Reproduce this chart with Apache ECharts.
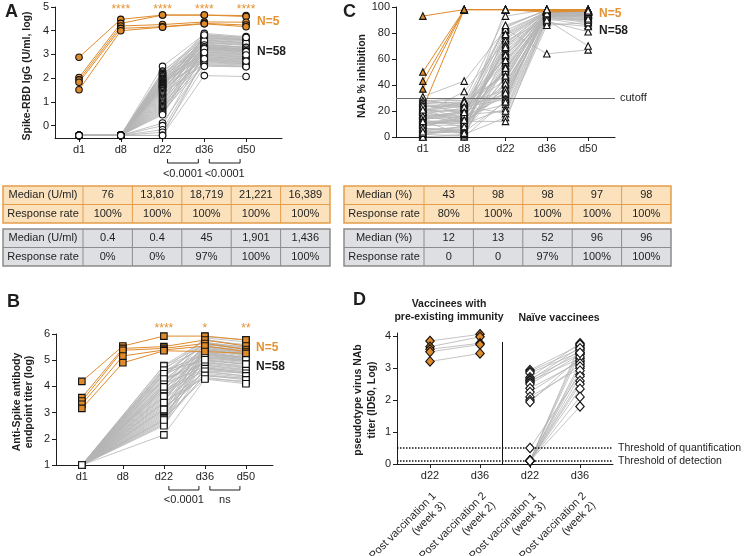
<!DOCTYPE html>
<html><head><meta charset="utf-8">
<script src="https://cdn.jsdelivr.net/npm/echarts@6/dist/echarts.min.js"></script>
<style>html,body{margin:0;padding:0;background:#fff}#c{width:744px;height:556px}</style>
</head><body><div id="c"></div>
<script>
// ---------------- DATA ----------------
const days = ['d1','d8','d22','d36','d50'];
const dDays = ['d22','d36','d22','d36'];
const dSubLabels = ['Post vaccination 1\n(week 3)','Post vaccination 2\n(week 2)','Post vaccination 1\n(week 3)','Post vaccination 2\n(week 2)'];
const groupLabels = ['N=5','N=58'];

// Panel A: Spike-RBD IgG (log10 U/ml)
const aPreD1  = [2.88, 2.03, 1.93, 1.83, 1.51];
const aPreD8  = [4.48, 4.31, 4.20, 4.10, 4.00];
const aPreD22 = [4.66, 4.66, 4.26, 4.17, 4.15];
const aPreD36 = [4.66, 4.66, 4.37, 4.31, 4.29];
const aPreD50 = [4.64, 4.60, 4.36, 4.24, 4.17];
const aNaiveD1 = [-0.41,-0.41,-0.41,-0.41,-0.41,-0.41,-0.41,-0.41,-0.41,-0.41,
 -0.41,-0.41,-0.41,-0.41,-0.41,-0.41,-0.41,-0.41,-0.41,-0.41,
 -0.41,-0.41,-0.41,-0.41,-0.41,-0.41,-0.41,-0.41,-0.41,-0.41,
 -0.41,-0.41,-0.41,-0.41,-0.41,-0.41,-0.41,-0.41,-0.41,-0.41,
 -0.41,-0.41,-0.41,-0.41,-0.41,-0.41,-0.41,-0.41,-0.41,-0.41,
 -0.41,-0.41,-0.41,-0.41,-0.41,-0.41,-0.41,-0.41];
const aNaiveD8 = [-0.41,-0.41,-0.41,-0.41,-0.41,-0.41,-0.41,-0.41,-0.41,-0.41,
 -0.41,-0.41,-0.41,-0.41,-0.41,-0.41,-0.41,-0.41,-0.41,-0.41,
 -0.41,-0.41,-0.41,-0.41,-0.41,-0.41,-0.41,-0.41,-0.41,-0.41,
 -0.41,-0.41,-0.41,-0.41,-0.41,-0.41,-0.41,-0.41,-0.41,-0.41,
 -0.41,-0.41,-0.41,-0.41,-0.41,-0.41,-0.41,-0.41,-0.41,-0.41,
 -0.41,-0.41,-0.41,-0.41,-0.41,-0.41,-0.41,-0.41];
const aNaiveD22 = [2.5,2.3,2.25,2.2,2.18,2.15,2.1,2.08,2.05,2.0,1.98,1.95,1.92,1.9,1.88,1.85,1.82,1.8,1.78,1.75,
 1.72,1.7,1.68,1.66,1.65,1.63,1.6,1.58,1.55,1.5,1.48,1.45,1.4,1.35,1.3,1.25,1.2,1.15,1.1,1.05,
 1.0,0.95,0.9,0.85,0.8,0.75,0.7,0.65,0.6,0.55,0.5,0.46,0.11,0.0,-0.17,-0.28,-0.41,-0.41];
const aNaiveD36 = [3.85,3.6,3.78,3.3,3.5,3.72,3.2,3.45,3.89,3.0,3.62,3.38,3.1,3.8,2.85,3.55,3.26,3.68,2.95,3.42,
 3.15,3.7,2.72,3.34,3.52,3.05,3.75,2.8,3.28,3.48,2.9,3.65,3.22,2.62,3.36,3.02,3.58,2.77,3.29,2.97,
 3.82,2.7,3.4,3.12,2.58,3.32,2.92,3.27,2.55,3.18,2.87,3.24,2.66,3.08,2.75,2.5,2.11,2.82];
const aNaiveD50 = [3.7,3.5,3.65,3.2,3.42,3.6,3.1,3.3,3.75,2.9,3.5,3.28,3.02,3.68,2.75,3.45,3.15,3.58,2.85,3.3,
 3.05,3.62,2.62,3.25,3.4,2.95,3.62,2.7,3.18,3.38,2.82,3.55,3.12,2.55,3.22,2.92,3.48,2.68,3.2,2.88,
 3.72,2.6,3.3,3.0,2.5,3.22,2.8,3.15,2.5,3.08,2.78,3.12,2.58,2.98,2.65,2.48,2.07,2.72];
const aStars = ['', '****', '****', '****', '****'];
const aPvals = ['<0.0001', '<0.0001'];

// Panel B: anti-Spike endpoint titer (log)
const bPreD1  = [4.19, 3.57, 3.44, 3.32, 3.16];
const bPreD8  = [5.54, 5.45, 5.38, 5.16, 4.90];
const bPreD22 = [5.92, 5.52, 5.45, 5.39, 5.36];
const bPreD36 = [5.92, 5.77, 5.64, 5.54, 5.33];
const bPreD50 = [5.77, 5.54, 5.41, 5.33, 5.26];
const bNaiveD1 = [1,1,1,1,1,1,1,1,1,1, 1,1,1,1,1,1,1,1,1,1, 1,1,1,1,1,1,1,1,1,1,
 1,1,1,1,1,1,1,1,1,1, 1,1,1,1,1,1,1,1,1,1, 1,1,1,1,1,1,1,1];
const bNaiveD22 = [4.8,4.7,4.65,4.6,4.55,4.5,4.45,4.4,4.35,4.3,4.25,4.2,4.15,4.1,4.05,4.0,3.95,3.9,3.85,3.8,
 3.75,3.7,3.65,3.6,3.55,3.5,3.45,3.4,3.35,3.3,3.25,3.2,3.15,3.1,3.05,3.0,2.95,2.9,2.85,2.8,
 2.75,2.7,2.65,2.6,2.55,2.5,4.78,4.62,4.48,4.28,4.08,3.88,3.62,3.38,3.12,2.72,2.15,3.98];
const bNaiveD36 = [5.75,5.5,5.8,5.2,5.6,5.05,5.65,5.3,5.85,4.9,5.45,5.15,5.7,4.75,5.4,5.55,4.95,5.25,5.62,4.6,
 5.35,5.1,5.5,4.85,5.42,4.7,5.28,5.68,4.55,5.0,5.38,4.4,5.18,4.8,5.52,4.5,5.32,4.65,5.08,4.3,
 5.22,4.9,5.45,4.45,5.12,4.72,5.6,4.98,5.4,4.82,5.25,4.68,5.02,4.35,4.58,4.42,4.28,5.9];
const bNaiveD50 = [5.6,5.3,5.55,5.0,5.45,4.9,5.5,5.1,5.7,4.8,5.25,5.0,5.4,4.6,5.2,5.35,4.75,5.05,5.45,4.5,
 5.15,4.95,5.3,4.7,5.2,4.55,5.05,5.5,4.4,4.85,5.22,4.3,5.0,4.62,5.4,4.35,5.1,4.5,4.95,4.2,
 5.05,4.72,5.3,4.3,4.98,4.55,5.42,4.85,5.25,4.65,5.1,4.5,4.85,4.15,4.4,4.25,4.1,5.78];
const bStars = ['', '', '****', '*', '**'];
const bPvals = ['<0.0001', 'ns'];

// Panel C: NAb % inhibition
const cPreD1  = [93, 50, 43, 37, 22];
const cPreD8  = [98, 98, 98, 98, 98];
const cPreD22 = [98, 98, 98, 98, 98];
const cPreD36 = [98, 97, 97, 98, 96];
const cPreD50 = [98, 98, 97, 98, 97];
const cNaiveD1 = [28,2,15,22,8,30,12,18,5,25,10,20,0,14,26,3,17,24,7,11,21,1,16,29,9,19,4,13,23,6,
 27,12,31,18,2,15,25,8,20,0,11,28,5,17,22,9,14,26,3,19,10,24,7,16,21,13,4,12];
const cNaiveD8 = [25,5,20,10,15,28,2,22,8,18,12,26,0,16,24,6,14,20,3,13,27,9,11,23,17,21,4,19,25,7,
 26,10,43,35,1,13,22,16,24,2,12,28,6,18,15,9,20,27,5,14,11,23,4,17,19,8,3,13];
const cNaiveD22 = [85,80,75,70,65,60,55,50,45,40,35,30,28,82,78,72,68,62,58,52,48,42,38,33,25,84,76,66,57,46,
 36,22,83,74,64,54,44,31,18,15,12,93,79,71,63,59,51,47,41,37,34,29,27,20,86,69,53,98];
const cNaiveD36 = [98,97,96,95,94,98,97,93,96,95,92,98,97,96,95,97,94,98,96,95,97,93,96,94,92,98,97,95,96,94,
 97,91,64,90,89,93,97,95,88,86,92,98,96,97,95,94,96,97,93,95,94,96,92,90,97,96,95,98];
const cNaiveD50 = [97,96,95,97,93,98,96,90,95,94,88,97,96,97,96,95,92,98,97,94,96,91,95,96,89,97,98,93,96,95,
 97,86,67,70,81,92,97,96,85,88,94,98,96,95,97,93,96,96,94,95,92,97,90,91,98,95,96,97];
const cCutoff = 30;

// Panel D: pseudotype virus NAb titer (ID50, log)
const dPreD22 = [3.85, 3.67, 3.59, 3.51, 3.21];
const dPreD36 = [4.06, 3.98, 3.78, 3.74, 3.46];
const dNaiveD22 = [2.94,2.9,2.85,2.71,2.66,2.62,2.6,2.55,2.5,2.37,2.25,2.1,2.0,1.94,0.5,
 0.1,0.1,0.1,0.1,0.1,0.1,0.1,0.1,0.1,0.1,0.1,0.1];
const dNaiveD36 = [3.72,3.6,3.5,3.78,3.45,3.66,3.3,3.55,3.42,3.2,3.25,3.0,3.1,3.35,2.8,
 3.74,3.62,3.48,3.15,3.05,2.92,2.75,2.6,2.5,2.35,2.1,1.8];
const dThresholds = [0.5, 0.1];
const dThresholdLabels = ['Threshold of quantification', 'Threshold of detection'];
const dGroupTitles = ['Vaccinees with\npre-existing immunity', 'Naïve vaccinees'];

// Tables
const tableARowLabels = ['Median (U/ml)', 'Response rate'];
const tableAPre   = [['76','13,810','18,719','21,221','16,389'], ['100%','100%','100%','100%','100%']];
const tableANaive = [['0.4','0.4','45','1,901','1,436'], ['0%','0%','97%','100%','100%']];
const tableCRowLabels = ['Median (%)', 'Response rate'];
const tableCPre   = [['43','98','98','97','98'], ['80%','100%','100%','100%','100%']];
const tableCNaive = [['12','13','52','96','96'], ['0','0','97%','100%','100%']];

// ---------------- STYLE ----------------
const F = '"Liberation Sans", Arial, Helvetica, sans-serif';
const ORANGE = '#df8a2b';
const ORANGE_TXT = '#e39332';
const GREY_LINE = '#b5b5b5';
const INK = '#1e1e1e';

const chart = echarts.init(document.getElementById('c'));

const grids = [
  {left:55,  top:7,   width:227, height:131, outerBoundsMode:'none'},
  {left:56,  top:334, width:217, height:131, outerBoundsMode:'none'},
  {left:396, top:7,   width:219, height:130, outerBoundsMode:'none'},
  {left:397, top:333, width:216, height:131, outerBoundsMode:'none'}
];

function xAx(gi, min, max, names, ticks) {
  return {type:'value', gridIndex:gi, min, max, splitLine:{show:false},
    axisLine:{show:true, onZero:false, lineStyle:{color:INK, width:1}},
    axisTick:{show:true, length:4, customValues:ticks, lineStyle:{color:INK}},
    axisLabel:{customValues:ticks, formatter:v => names[Math.round(v)], color:INK, fontSize:11, fontFamily:F, margin:6}};
}
function yAx(gi, min, max, ticks) {
  return {type:'value', gridIndex:gi, min, max, splitLine:{show:false},
    axisLine:{show:true, onZero:false, lineStyle:{color:INK, width:1}},
    axisTick:{show:true, length:4, customValues:ticks, lineStyle:{color:INK}},
    axisLabel:{customValues:ticks, color:INK, fontSize:11, fontFamily:F, margin:6}};
}

const series = [];
function addMarkers(gi, cols, xs, symbol, size, fill, z, extra) {
  const data = [];
  cols.forEach((c, t) => c.forEach(v => data.push([xs[t], v])));
  const s = {type:'scatter', xAxisIndex:gi, yAxisIndex:gi, data, symbol, symbolSize:size, silent:true,
    itemStyle:{color:fill, borderColor:'#111', borderWidth:1.1, opacity:1}, z, animation:false};
  Object.assign(s, extra || {});
  series.push(s);
}
function linesXY(gi, cols, xs, color, width, z) {
  const n = cols[0].length;
  for (let i = 0; i < n; i++) {
    series.push({type:'line', xAxisIndex:gi, yAxisIndex:gi, data: cols.map((c, t) => [xs[t], c[i]]),
      symbol:'none', silent:true, lineStyle:{color, width}, z, animation:false});
  }
}

// Panel A
const aPreCols = [aPreD1, aPreD8, aPreD22, aPreD36, aPreD50];
const aNaiveCols = [aNaiveD1, aNaiveD8, aNaiveD22, aNaiveD36, aNaiveD50];
const x5 = days.map((d, i) => i);
linesXY(0, aNaiveCols, x5, GREY_LINE, 0.8, 2);
linesXY(0, aPreCols, x5, ORANGE, 1, 3);
addMarkers(0, aNaiveCols, x5, 'circle', 6.5, '#fff', 4);
addMarkers(0, aPreCols, x5, 'circle', 6.5, ORANGE, 5);

// Panel B (naive group has no d8 measurement)
const bPreCols = [bPreD1, bPreD8, bPreD22, bPreD36, bPreD50];
const bNaiveCols = [bNaiveD1, bNaiveD22, bNaiveD36, bNaiveD50];
const bNaiveX = ['d1','d22','d36','d50'].map(d => days.indexOf(d));
linesXY(1, bNaiveCols, bNaiveX, GREY_LINE, 0.8, 2);
linesXY(1, bPreCols, x5, ORANGE, 1, 3);
addMarkers(1, bNaiveCols, bNaiveX, 'rect', 6.5, '#fff', 4);
addMarkers(1, bPreCols, x5, 'rect', 6.5, ORANGE, 5);

// Panel C
const cPreCols = [cPreD1, cPreD8, cPreD22, cPreD36, cPreD50];
const cNaiveCols = [cNaiveD1, cNaiveD8, cNaiveD22, cNaiveD36, cNaiveD50];
linesXY(2, cNaiveCols, x5, GREY_LINE, 0.8, 2);
linesXY(2, cPreCols, x5, ORANGE, 1, 3);
addMarkers(2, cPreCols, x5, 'triangle', 6.5, ORANGE, 4);
addMarkers(2, cNaiveCols, x5, 'triangle', 6.5, '#fff', 5, {
  markLine:{silent:true, symbol:['none','none'], animation:false,
    lineStyle:{color:'#6e6e6e', width:1, type:'solid'},
    label:{show:true, position:'end', formatter:'cutoff', color:INK, fontSize:11, fontFamily:F, distance:5},
    data:[{yAxis:cCutoff}]}
});

// Panel D
const dPreCols = [dPreD22, dPreD36];
const dNaiveCols = [dNaiveD22, dNaiveD36];
linesXY(3, dPreCols, [0, 1], GREY_LINE, 0.8, 2);
linesXY(3, dNaiveCols, [2, 3], GREY_LINE, 0.8, 2);
addMarkers(3, dPreCols, [0, 1], 'diamond', [8.5, 9.5], ORANGE, 5);
addMarkers(3, dNaiveCols, [2, 3], 'diamond', [8.5, 9.5], '#fff', 5, {
  markLine:{silent:true, symbol:['none','none'], animation:false,
    data:[
      {yAxis:dThresholds[0], lineStyle:{color:'#111', width:1.5, type:'dotted'},
        label:{show:true, position:'end', formatter:dThresholdLabels[0], color:INK, fontSize:10.5, fontFamily:F, distance:5}},
      {yAxis:dThresholds[1], lineStyle:{color:'#111', width:1.5, type:'dotted'},
        label:{show:true, position:'end', formatter:dThresholdLabels[1], color:INK, fontSize:10.5, fontFamily:F, distance:5}},
      [{coord:[1.44, 0], lineStyle:{color:'#111', width:1, type:'solid'}, label:{show:false}}, {coord:[1.44, 3.82]}]
    ]}
});

chart.setOption({
  animation:false,
  textStyle:{fontFamily:F},
  grid: grids,
  xAxis: [xAx(0, -0.575, 4.86, days, [0,1,2,3,4]), xAx(1, -0.63, 4.66, days, [0,1,2,3,4]),
          xAx(2, -0.65, 4.65, days, [0,1,2,3,4]), xAx(3, -0.66, 3.66, dDays, [0,1,2,3])],
  yAxis: [yAx(0, -0.52, 5, [0,1,2,3,4,5]), yAx(1, 1, 6, [1,2,3,4,5,6]),
          yAx(2, 0, 100, [0,20,40,60,80,100]), yAx(3, 0, 4.1, [0,1,2,3,4])],
  series
});

// ---------------- ANNOTATIONS ----------------
const G = [];
function txt(s, x, y, o) {
  o = o || {};
  return {type:'text', x, y, rotation:o.rot || 0, z:20, silent:true,
    style:{text:s, fill:o.fill || INK, font:(o.bold ? 'bold ' : '') + (o.size || 11) + 'px ' + F,
      textAlign:o.align || 'center', textVerticalAlign:o.va || 'middle', lineHeight:o.lh}};
}
function px(gi, x, y) { return chart.convertToPixel({gridIndex:gi}, [x, y]); }

// Panel letters
G.push(txt('A', 5, 12, {bold:true, size:18, align:'left'}));
G.push(txt('B', 7, 302, {bold:true, size:18, align:'left'}));
G.push(txt('C', 343, 12, {bold:true, size:18, align:'left'}));
G.push(txt('D', 353, 300, {bold:true, size:18, align:'left'}));

// Axis titles
G.push(txt('Spike-RBD IgG (U/ml, log)', 27, 76, {bold:true, size:10.5, rot:Math.PI/2}));
G.push(txt('Anti-Spike antibody\nendpoint titer (log)', 23, 402, {bold:true, size:10.5, rot:Math.PI/2, lh:12}));
G.push(txt('NAb % inhibition', 362, 76, {bold:true, size:10.5, rot:Math.PI/2}));
G.push(txt('pseudotype virus NAb\ntiter (ID50, Log)', 365, 400, {bold:true, size:10.5, rot:Math.PI/2, lh:14}));

// Group labels
G.push(txt(groupLabels[0], 257, 22, {bold:true, size:12, align:'left', fill:ORANGE_TXT}));
G.push(txt(groupLabels[1], 257, 52, {bold:true, size:12, align:'left'}));
G.push(txt(groupLabels[0], 256, 348, {bold:true, size:12, align:'left', fill:ORANGE_TXT}));
G.push(txt(groupLabels[1], 256, 367, {bold:true, size:12, align:'left'}));
G.push(txt(groupLabels[0], 599, 14, {bold:true, size:12, align:'left', fill:ORANGE_TXT}));
G.push(txt(groupLabels[1], 599, 31, {bold:true, size:12, align:'left'}));

// Stars
aStars.forEach((s, i) => { if (s) G.push(txt(s, px(0, i, 5)[0], 10, {size:12, fill:ORANGE_TXT})); });
bStars.forEach((s, i) => { if (s) G.push(txt(s, px(1, i, 6)[0], 329, {size:12, fill:ORANGE_TXT})); });

// Brackets with p-values
function brackets(gi, pv, yb, yt) {
  pv.forEach((p, k) => {
    const x1 = px(gi, 2 + k, 0)[0] + 5, x2 = px(gi, 3 + k, 0)[0] - 6;
    G.push({type:'polyline', silent:true, z:20, shape:{points:[[x1, yb - 4], [x1, yb], [x2, yb], [x2, yb - 4]]},
      style:{stroke:INK, lineWidth:1, fill:null}});
    G.push(txt(p, (x1 + x2) / 2, yt, {size:11}));
  });
}
brackets(0, aPvals, 163, 174);
brackets(1, bPvals, 490, 500);

// D group titles & rotated sublabels
G.push(txt(dGroupTitles[0], 449, 311, {bold:true, size:10.5, lh:13}));
G.push(txt(dGroupTitles[1], 559, 318, {bold:true, size:10.5}));
dSubLabels.forEach((s, i) => {
  const x = px(3, i, 0)[0];
  G.push(txt(s, x + 9, 499, {size:11, align:'right', rot:Math.PI/4, lh:13}));
});

// Tables
function table(x0, y0, labels, rows, fill, stroke) {
  const rowH = 18.5, c0 = 80, cw = 49.4, ncol = rows[0].length;
  const W = c0 + cw * ncol, H = rowH * rows.length;
  G.push({type:'rect', silent:true, z:10, shape:{x:x0, y:y0, width:W, height:H}, style:{fill, stroke, lineWidth:1.5}});
  for (let r = 1; r < rows.length; r++)
    G.push({type:'line', silent:true, z:11, shape:{x1:x0, y1:y0 + r * rowH, x2:x0 + W, y2:y0 + r * rowH}, style:{stroke, lineWidth:1}});
  for (let c = 0; c < ncol; c++) {
    const x = x0 + c0 + c * cw;
    G.push({type:'line', silent:true, z:11, shape:{x1:x, y1:y0, x2:x, y2:y0 + H}, style:{stroke, lineWidth:1}});
  }
  rows.forEach((row, r) => {
    const yc = y0 + rowH * (r + 0.5);
    G.push(txt(labels[r], x0 + c0 / 2, yc, {size:11}));
    row.forEach((v, c) => G.push(txt(v, x0 + c0 + cw * (c + 0.5), yc, {size:11})));
  });
}
table(3, 186, tableARowLabels, tableAPre, '#fbe2bd', '#e59d49');
table(3, 229, tableARowLabels, tableANaive, '#dedfe2', '#8c8c8c');
table(344, 186, tableCRowLabels, tableCPre, '#fbe2bd', '#e59d49');
table(344, 229, tableCRowLabels, tableCNaive, '#dedfe2', '#8c8c8c');

chart.setOption({graphic: G});
</script>
</body></html>
